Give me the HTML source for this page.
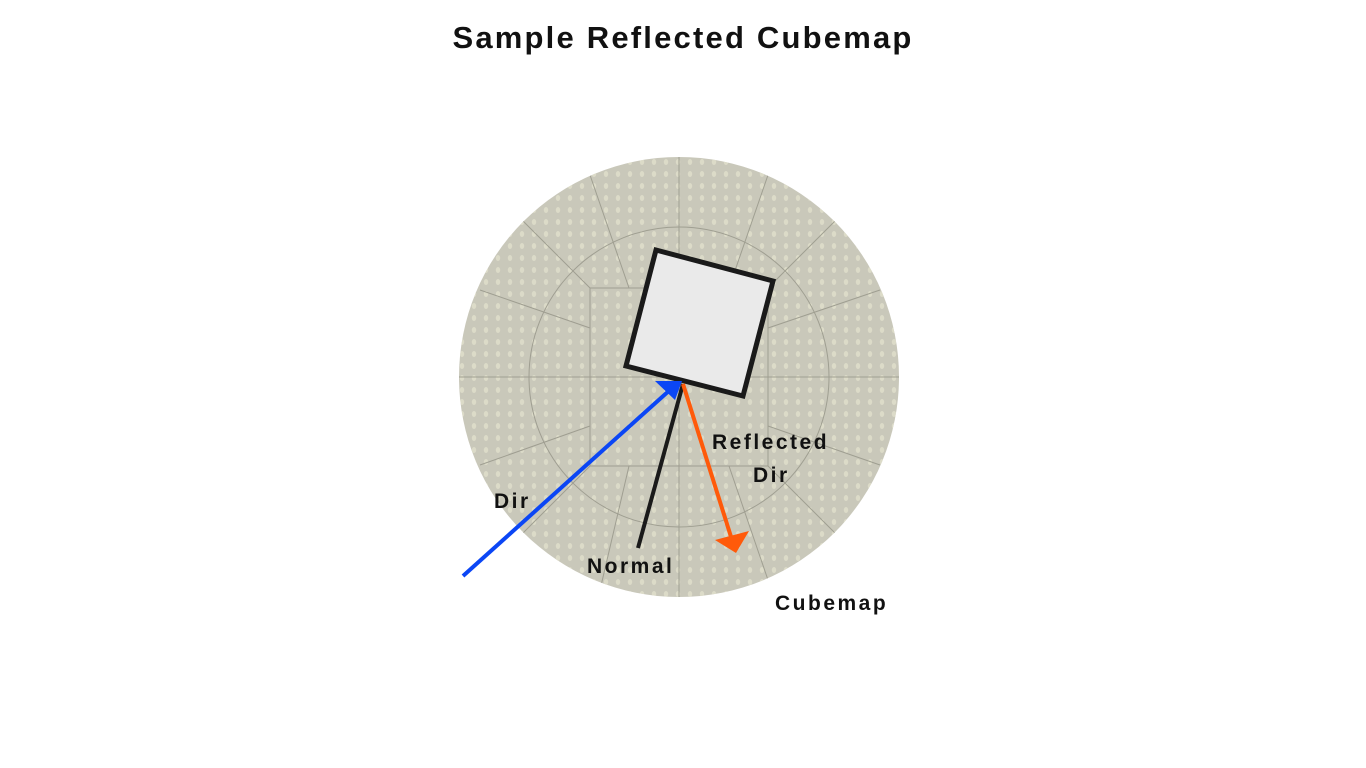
<!DOCTYPE html>
<html><head><meta charset="utf-8"><style>
html,body{margin:0;padding:0;background:#fff;width:1366px;height:768px;overflow:hidden}
svg{display:block}
text{font-family:"Liberation Sans",sans-serif;font-weight:bold;fill:#111}
.lbl{letter-spacing:2.5px}
</style></head><body>
<svg width="1366" height="768" viewBox="0 0 1366 768">
<defs>
<pattern id="dots" width="12" height="12" patternUnits="userSpaceOnUse">
<ellipse cx="6" cy="6" rx="2.2" ry="3" fill="#e4e3cf"/>
</pattern>
<clipPath id="sc"><circle cx="679" cy="377" r="220"/></clipPath>
</defs>
<text x="683" y="48" text-anchor="middle" font-size="31" letter-spacing="2.2">Sample Reflected Cubemap</text>
<g>
<circle cx="679" cy="377" r="220" fill="#c9c8ba"/>
<g clip-path="url(#sc)" opacity="0.7">
<rect x="459" y="157" width="440" height="440" fill="url(#dots)"/>
<g stroke="#8e8d80" stroke-width="1" fill="none">
<line x1="679" y1="157" x2="679" y2="597"/>
<line x1="459" y1="377" x2="899" y2="377"/>
<polygon points="590,288 768,288 768,466 590,466"/>
<line x1="590" y1="288" x2="520" y2="218"/><line x1="768" y1="288" x2="838" y2="218"/>
<line x1="590" y1="466" x2="520" y2="536"/><line x1="768" y1="466" x2="838" y2="536"/>
<line x1="629" y1="288" x2="590" y2="175"/><line x1="729" y1="288" x2="768" y2="175"/>
<line x1="629" y1="466" x2="600" y2="590"/><line x1="729" y1="466" x2="768" y2="580"/>
<line x1="590" y1="328" x2="480" y2="290"/><line x1="590" y1="426" x2="480" y2="465"/>
<line x1="768" y1="328" x2="880" y2="290"/><line x1="768" y1="426" x2="880" y2="465"/>
<circle cx="679" cy="377" r="150"/>
</g>
</g>
</g>
<polygon points="656,250 773,281 743,396 626,366" fill="#eaeaea" stroke="#1a1a1a" stroke-width="5" stroke-linejoin="miter"/>
<line x1="463" y1="576" x2="671" y2="389" stroke="#0b46f5" stroke-width="4"/>
<polygon points="682,381 655,381 675,400" fill="#0b46f5"/>
<line x1="683" y1="384" x2="638" y2="548" stroke="#1a1a1a" stroke-width="4"/>
<line x1="683" y1="384" x2="732" y2="540" stroke="#ff5a0a" stroke-width="4"/>
<polygon points="736,553 715,540 749,531" fill="#ff5a0a"/>
<text class="lbl" x="494" y="508" font-size="21">Dir</text>
<text class="lbl" x="712" y="449" font-size="21">Reflected</text>
<text class="lbl" x="753" y="482" font-size="21">Dir</text>
<text class="lbl" x="587" y="573" font-size="21">Normal</text>
<text class="lbl" x="775" y="610" font-size="21">Cubemap</text>
</svg>
</body></html>
